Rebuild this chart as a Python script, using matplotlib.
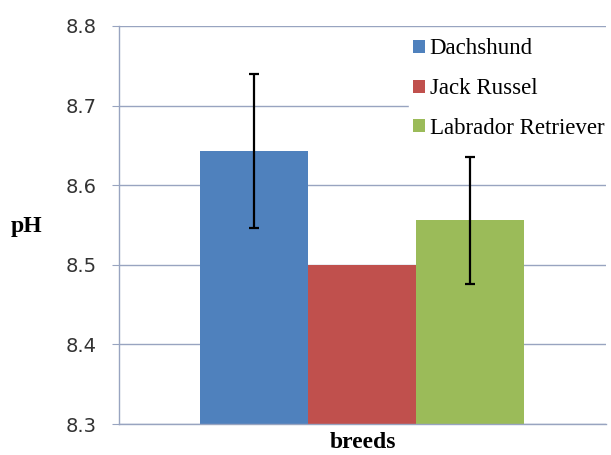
import numpy as np
import matplotlib
matplotlib.use('Agg')
import matplotlib.pyplot as plt

# data
breeds = ['Dachshund', 'Jack Russel', 'Labrador Retriever']
ph_mean = [8.643, 8.500, 8.556]
ph_err = [0.097, 0.0, 0.080]
colors = ['#4F81BD', '#C0504D', '#9BBB59']
yticks = [8.3, 8.4, 8.5, 8.6, 8.7, 8.8]

fig = plt.figure(figsize=(6.11, 4.55), dpi=100)
ax = fig.add_axes([0.195, 0.068, 0.797, 0.875])

grid_c = '#98A4C0'
x = np.arange(len(breeds))
for i in range(len(breeds)):
    ax.bar(x[i], ph_mean[i] - 8.3, bottom=8.3, width=1.0, color=colors[i],
           label=breeds[i], zorder=2)
    if ph_err[i] > 0:
        ax.errorbar(x[i], ph_mean[i], yerr=ph_err[i], color='black',
                    elinewidth=1.6, capsize=3.5, capthick=1.6, zorder=3)

ax.set_ylim(8.3, 8.8)
ax.set_xlim(-1.25, 3.26)
ax.set_yticks(yticks)
ax.set_yticklabels(['%.1f' % v for v in yticks], fontsize=14,
                   family='DejaVu Sans', color='#333333')
ax.set_xticks([])
ax.yaxis.grid(True, color=grid_c, linewidth=1.0, zorder=0)
ax.set_axisbelow(True)
for s in ['top', 'right']:
    ax.spines[s].set_visible(False)
for s in ['left', 'bottom']:
    ax.spines[s].set_color(grid_c)
    ax.spines[s].set_linewidth(1.0)
ax.tick_params(axis='y', length=5, color=grid_c, pad=11)

ax.set_ylabel('pH', family='Liberation Serif', fontsize=17, fontweight='bold',
              rotation=0, va='center')
ax.yaxis.set_label_coords(-0.19, 0.495)
ax.set_xlabel('breeds', family='Liberation Serif', fontsize=17,
              fontweight='bold', labelpad=6)

leg = ax.legend(loc='upper left', bbox_to_anchor=(0.595, 0.98), frameon=True,
                prop={'family': 'Liberation Serif', 'size': 16.5},
                handlelength=0.5, handleheight=0.5, handletextpad=0.2,
                labelspacing=0.82, borderpad=0.2, borderaxespad=0.0,
                fancybox=False)
leg.get_frame().set_edgecolor('white')
leg.get_frame().set_facecolor('white')
leg.get_frame().set_alpha(1.0)

fig.savefig('out.png', dpi=100)
